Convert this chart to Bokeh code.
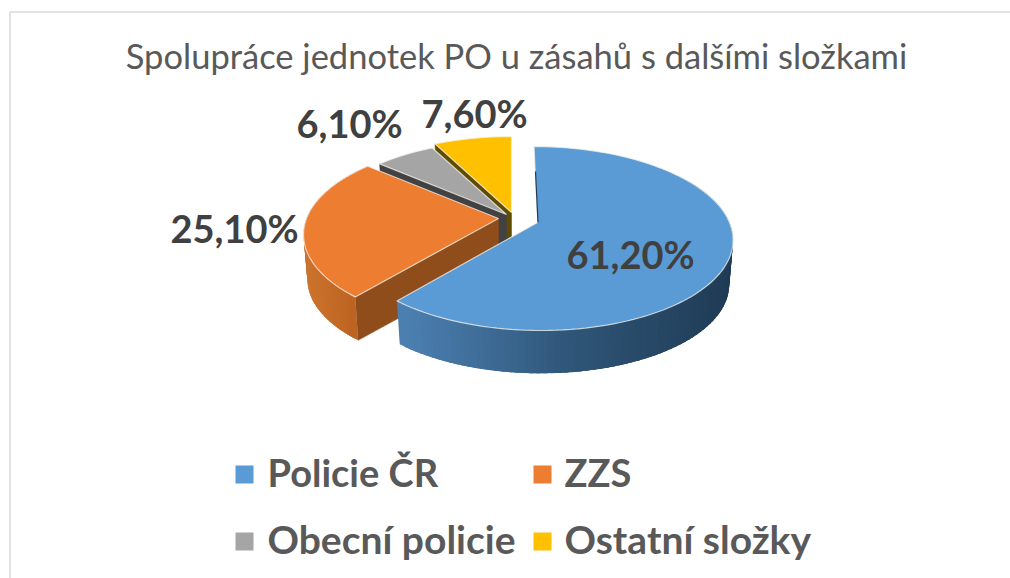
import math
from bokeh.plotting import figure
from bokeh.embed import file_html
from bokeh.resources import INLINE
from bokeh.core.properties import value

TITLE = "Spolupráce jednotek PO u zásahů s dalšími složkami"
categories = ["Policie ČR", "ZZS", "Obecní policie", "Ostatní složky"]
shares = [61.2, 25.1, 6.1, 7.6]
labels = ["61,20%", "25,10%", "6,10%", "7,60%"]

colors = ["#5B9BD5", "#ED7D31", "#A5A5A5", "#FFC000"]
cut_colors = ["#1F3B55", "#8F4D1C", "#424242", "#5F4C00"]

# layout of the 3D pie (page pixels)
CX, CY = 537.0, 222.0
B, A, K = 192.0, 89.2, 0.174
DEPTH = 45.0
BOTTOM_SCALE = 0.98
EXPLODE = [(0, 0), (-39, -4), (-31, -8), (-26, -10)]
SCALE = [1.0, 1.0, 0.97, 1.0]
SKEW = [3.5, 0.0, 0.0, 0.0]
LABEL_XY = [(566, 253), (170, 227), (296, 122), (421, 112)]
LEGEND_SQ = [(235, 465), (533, 465), (235, 532), (533, 532)]
LEGEND_TX = [(267, 471), (564, 471), (267, 538), (564, 538)]
LEGEND_SIZE = ["38px", "38px", "39px", "39px"]
WALL_START = [math.radians(60), None, None, None]


def rim(i, theta, bottom=False):
    ox, oy = EXPLODE[i]
    X, Y = math.sin(theta), -math.cos(theta)
    d = 1 - K * Y
    s = (BOTTOM_SCALE if bottom else 1.0) * SCALE[i]
    return (CX + ox + s * (B * X / d + SKEW[i] * Y),
            CY + oy + s * A * Y / d + (DEPTH if bottom else 0.0))


def lerp_color(stops, x):
    if x <= stops[0][0]:
        c = stops[0][1]
    elif x >= stops[-1][0]:
        c = stops[-1][1]
    else:
        c = None
        for (x0, c0), (x1, c1) in zip(stops, stops[1:]):
            if x0 <= x <= x1:
                t = (x - x0) / (x1 - x0)
                c = tuple(a + (b - a) * t for a, b in zip(c0, c1))
                break
    return "#%02x%02x%02x" % tuple(int(round(v)) for v in c)


p = figure(width=1010, height=578, x_range=(0, 1010), y_range=(578, 0),
           output_backend="svg", toolbar_location=None,
           min_border=0, outline_line_color=None, background_fill_color="white")
p.axis.visible = False
p.grid.visible = False

# chart frame
p.line([1010, 9.5, 9.5], [11.5, 11.5, 578], line_color="#D9D9D9", line_width=1.5)

# angular extent of each slice, from the data
total = sum(shares)
bounds, acc = [], 0.0
for s in shares:
    bounds.append((acc / total * 2 * math.pi, (acc + s) / total * 2 * math.pi))
    acc += s

side_stops = {
    0: [(400, (74, 127, 176)), (560, (47, 85, 119)), (730, (31, 59, 85))],
    1: [(305, (204, 116, 46)), (358, (189, 99, 34))],
}


def draw_slice(i):
    a0, a1 = bounds[i]
    ax, ay = CX + EXPLODE[i][0], CY + EXPLODE[i][1]
    # cut face along the start edge
    if i in (1, 2, 3):
        tx, ty = rim(i, a0)
        bx, by = rim(i, a0, True)
        p.patch([ax, tx, bx, ax], [ay, ty, by, ay + DEPTH],
                fill_color=cut_colors[i], line_color=cut_colors[i], line_width=0.5)
    # outer wall, as fine strips that overlap so that it shades without seams
    if i in side_stops:
        n = 90
        w0 = WALL_START[i] if WALL_START[i] is not None else a0
        step = (a1 - w0) / n
        order = range(n) if i == 0 else range(n - 1, -1, -1)
        for k in order:
            t0 = w0 + step * k
            t1 = t0 + step
            lo = max(w0, t0 - 1.5 * step) if i == 0 else t0
            hi = t1 if i == 0 else min(a1, t1 + 1.5 * step)
            x0, y0 = rim(i, lo)
            x1, y1 = rim(i, hi)
            x2, y2 = rim(i, hi, True)
            x3, y3 = rim(i, lo, True)
            mx, _ = rim(i, (t0 + t1) / 2)
            c = lerp_color(side_stops[i], mx)
            p.patch([x0, x1, x2, x3], [y0, y1, y2, y3],
                    fill_color=c, line_color=None)
    # top surface
    n = 120
    xs, ys = [ax], [ay]
    for k in range(n + 1):
        x, y = rim(i, a0 + (a1 - a0) * k / n)
        xs.append(x)
        ys.append(y)
    p.patch(xs, ys, fill_color=colors[i], line_color="#F4F1EC",
            line_alpha=0.75, line_width=1.2)


for i in (3, 2, 1, 0):
    draw_slice(i)

# dark sliver of the blue slice's start cut
tx, ty = rim(0, bounds[0][0])
p.line([tx + 1.5, CX + 0.5], [ty + 25, CY], line_color=cut_colors[0], line_width=1.2)

# data labels
for (x, y), t in zip(LABEL_XY, labels):
    p.text([x], [y], text=[t], text_font=value("Lato"), text_font_style="bold",
           text_font_size="38px", text_color="#404040",
           text_align="left", text_baseline="alphabetic")

# title
p.text([516], [55], text=[TITLE], text_font=value("Lato"), text_font_size="34.5px",
       text_color="#595959", text_align="center", text_baseline="alphabetic")

# legend
for (x, y), c in zip(LEGEND_SQ, colors):
    p.quad(left=[x], right=[x + 18], top=[y], bottom=[y + 18],
           fill_color=c, line_color=None)
for (x, y), t, fs in zip(LEGEND_TX, categories, LEGEND_SIZE):
    p.text([x], [y], text=[t], text_font=value("Lato"), text_font_style="bold",
           text_font_size=fs, text_color="#595959",
           text_align="left", text_baseline="alphabetic")

open("out.html", "w").write(file_html(p, INLINE))
